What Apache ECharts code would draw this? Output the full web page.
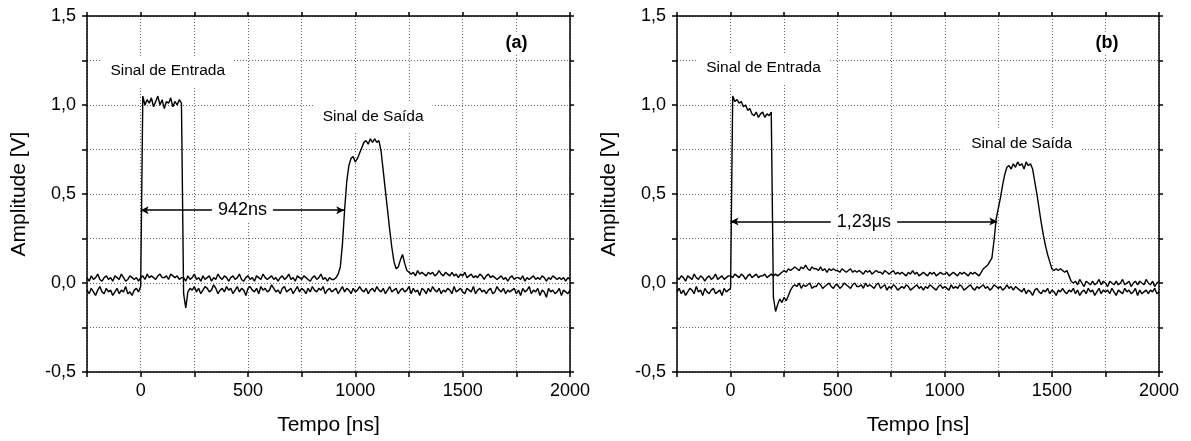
<!DOCTYPE html>
<html>
<head>
<meta charset="utf-8">
<script src="https://cdn.jsdelivr.net/npm/echarts@6/dist/echarts.min.js"></script>
<style>
html,body{margin:0;padding:0;background:#fff;}
#chart{width:1191px;height:441px;}
</style>
</head>
<body>
<div id="chart"></div>
<script>
// Sample times: start -250 ns, step 10 ns (226 samples up to 2000 ns)
const T_START = -250;
const T_STEP = 10;

// Values, in units of 0.01 V
// Panel (a) input pulse ("Sinal de Entrada")
const inputA = [
 -4,-6,-3,-5,-7,-4,-2,-5,-6,-3,-5,-4,-7,-5,-3,-6,-4,-5,-2,-6,-5,-7,-4,-3,-5,
 -2,
 105,100,103,101,104,99,102,105,100,103,98,102,101,104,99,102,100,103,101,
 -6,-14,
 -5,-3,-4,-2,-5,-3,-6,-4,-2,-3,
 -5,-4,-1,-3,-6,-4,-3,-5,-2,-4,
 -3,-6,-4,-2,-5,-3,-4,-7,-3,-2,
 -4,-5,-3,-6,-2,-4,-3,-5,-4,-1,
 -3,-5,-4,-6,-3,-2,-5,-4,-3,-6,
 -4,-2,-5,-3,-4,-6,-3,-5,-2,-4,
 -5,-3,-4,-2,-6,-4,-3,-5,-4,-3,
 -6,-4,-2,-5,-3,-4,-6,-3,-5,-4,
 -2,-4,-5,-3,-6,-4,-3,-5,-2,-4,
 -5,-3,-6,-4,-2,-5,-4,-3,-6,-4,
 -3,-5,-4,-2,-6,-3,-5,-4,-7,-3,
 -4,-6,-3,-5,-2,-4,-5,-3,-6,-4,
 -5,-3,-4,-6,-2,-5,-4,-3,-5,-6,
 -3,-4,-5,-2,-6,-4,-3,-5,-4,-6,
 -4,-3,-6,-5,-2,-4,-5,-3,-6,-4,
 -5,-4,-3,-6,-4,-7,-3,-5,-4,-2,
 -6,-4,-5,-3,-7,-4,-5,-8,-3,-5,
 -4,-6,-5,-3,-7,-4,-5,-6,-4
];
// Panel (a) output pulse ("Sinal de Saída")
const outputA = [
 3,1,4,2,3,5,2,1,3,4,2,3,1,4,3,2,5,3,1,2,4,3,2,3,1,
 3,4,2,5,3,4,3,2,4,5,3,3,4,2,5,4,3,4,2,3,
 3,1,4,2,3,5,2,3,1,4,
 2,3,4,1,3,2,5,3,2,4,
 3,1,3,4,2,3,5,2,1,3,
 4,2,3,1,4,3,2,5,3,2,
 3,4,2,3,1,3,4,2,3,5,
 2,3,1,4,3,2,4,3,2,1,
 3,4,2,3,5,2,3,1,3,2,
 2,3,5,9,22,41,57,66,70,71,68,70,73,76,79,80,78,81,79,81,79,80,74,63,52,41,30,20,12,8,9,13,16,11,7,6,
 5,6,4,7,5,6,5,4,6,5,
 6,4,5,7,5,4,6,5,4,6,
 4,5,3,5,4,6,3,4,5,3,
 4,3,5,4,2,4,5,3,4,3,
 2,3,4,2,3,1,3,4,2,3,
 3,2,4,1,3,2,3,4,2,3,
 2,4,3,1,3,2,4,3,2,3,
 2,3,1,3,2
];
// Panel (b) input pulse
const inputB = [
 -5,-3,-6,-4,-7,-5,-3,-4,-6,-2,-5,-4,-7,-3,-5,-6,-4,-3,-6,-5,-4,-7,-3,-5,-4,
 -3,
 105,102,103,101,102,99,100,97,98,95,94,96,93,95,96,93,95,94,96,
 -8,
 -16,-12,-9,-11,-8,-10,-7,-4,-2,
 -1,-2,0,-3,-1,-2,-1,0,-3,-2,
 -2,0,-1,-3,-2,-1,0,-2,-3,-1,
 -1,-3,-2,0,-1,-2,-3,-1,0,-2,
 -2,-1,-3,0,-2,-1,-2,-3,-1,0,
 -3,-2,-1,-4,-2,-3,-1,-2,-4,-3,
 -2,-3,-1,-2,-4,-3,-2,-1,-3,-2,
 -4,-2,-3,-1,-2,-3,-4,-2,-1,-3,
 -2,-3,-4,-1,-3,-2,-3,-1,-2,-4,
 -3,-2,-1,-3,-4,-2,-3,-2,-1,-3,
 -2,-4,-3,-1,-2,-3,-2,-4,-3,-1,
 -3,-2,-4,-2,-3,
 -4,-5,-3,-6,-4,-5,-7,-4,-3,-5,
 -6,-4,-5,-3,-6,-4,-5,-7,-4,-5,
 -3,-5,-6,-4,-5,-3,-6,-4,-7,-5,
 -4,-6,-3,-5,-4,-7,-5,-3,-6,-4,
 -5,-4,-6,-3,-5,-7,-4,-5,-6,-3,
 -5,-4,-6,-5,-3,-7,-4,-6,-5,-4,
 -6,-4,-5,-3,-6,-5
];
// Panel (b) output pulse
const outputB = [
 3,2,4,3,1,4,3,2,5,3,2,4,3,1,3,4,2,3,5,2,3,4,2,3,4,
 4,3,5,4,3,5,4,2,4,5,3,4,5,3,4,4,5,3,4,5,
 4,5,4,5,6,7,6,8,7,8,
 9,8,7,9,8,10,8,7,9,8,
 8,7,9,7,8,6,8,7,8,7,
 7,6,8,7,6,7,8,6,7,6,
 7,6,5,7,6,7,5,6,7,6,
 6,5,7,6,5,6,7,5,6,5,
 6,5,4,6,5,7,5,6,4,5,
 6,5,4,6,5,6,4,5,6,5,
 5,6,4,5,6,5,4,6,5,6,
 5,4,6,5,6,5,4,
 6,8,9,10,12,14,24,36,42,48,55,61,65,66,64,67,65,68,66,67,64,68,66,67,64,57,50,42,34,27,21,16,12,8,7,8,7,8,7,6,7,4,1,
 0,1,-1,2,0,-2,1,0,-1,1,
 -1,0,2,-1,1,0,-2,1,0,-1,
 1,-1,0,2,-1,0,1,-2,0,1,
 -1,1,0,-1,2,0,-1,1,-2,0,
 1
];

// Axis ranges and ticks
const xMin = -250, xMax = 2000, xStep = 250, xLabelStep = 500;
const yMin = -0.5, yMax = 1.5, yStep = 0.25;

// Annotations (data coordinates)
const labelsA = [
  {name: 'Sinal de Entrada', value: [126, 1.19]},
  {name: 'Sinal de Saída', value: [1083, 0.936]}
];
const labelsB = [
  {name: 'Sinal de Entrada', value: [154, 1.208]},
  {name: 'Sinal de Saída', value: [1359, 0.785]}
];
const tagA = [{name: '(a)', value: [1751, 1.349]}];
const tagB = [{name: '(b)', value: [1757, 1.348]}];
const delayA = {text: '942ns', from: 0, to: 948, level: 0.409};
const delayB = {text: '1,23\u03bcs', from: 0, to: 1245, level: 0.345};

function toPairs(arr) {
  return arr.map((v, i) => [T_START + T_STEP * i, v / 100]);
}

const FONT = "'Liberation Sans', Arial, Helvetica, sans-serif";
const gridDefs = [
  {left: 87, top: 16, width: 483, height: 357},
  {left: 677, top: 16, width: 482, height: 356}
];

const axisLineStyle = {color: '#000', width: 1.5};
const splitStyle = {show: true, lineStyle: {color: '#666', width: 1, type: [1, 2]}};

function xLabelFmt(v) {
  return (Math.round(v) % xLabelStep === 0) ? String(Math.round(v)) : '';
}
function yLabelFmt(v) {
  const k = Math.round(v * 100);
  return (k % 50 === 0) ? (k / 100).toFixed(1).replace('.', ',') : '';
}

const xAxes = [], yAxes = [];
gridDefs.forEach((g, gi) => {
  xAxes.push({
    type: 'value', gridIndex: gi, position: 'bottom', min: xMin, max: xMax, interval: xStep,
    name: 'Tempo [ns]', nameLocation: 'middle', nameGap: 43,
    nameTextStyle: {fontFamily: FONT, fontSize: 21, color: '#000'},
    axisLine: {show: true, onZero: false, lineStyle: axisLineStyle},
    axisTick: {show: true, inside: false, length: 5, lineStyle: {color: '#000', width: 1.5}},
    axisLabel: {show: true, formatter: xLabelFmt, fontFamily: FONT, fontSize: 18, color: '#000', margin: 10},
    splitLine: splitStyle
  });
  xAxes.push({
    type: 'value', gridIndex: gi, position: 'top', min: xMin, max: xMax, interval: xStep,
    axisLine: {show: true, onZero: false, lineStyle: axisLineStyle},
    axisTick: {show: true, inside: false, length: 4, lineStyle: {color: '#000', width: 1.5}},
    axisLabel: {show: false},
    splitLine: {show: false}
  });
  yAxes.push({
    type: 'value', gridIndex: gi, position: 'left', min: yMin, max: yMax, interval: yStep,
    name: 'Amplitude [V]', nameLocation: 'middle', nameGap: 57,
    nameTextStyle: {fontFamily: FONT, fontSize: 21, color: '#000'},
    axisLine: {show: true, onZero: false, lineStyle: axisLineStyle},
    axisTick: {show: true, inside: false, length: 5, lineStyle: {color: '#000', width: 1.5}},
    axisLabel: {show: true, formatter: yLabelFmt, fontFamily: FONT, fontSize: 18, color: '#000', margin: 11},
    splitLine: splitStyle
  });
  yAxes.push({
    type: 'value', gridIndex: gi, position: 'right', min: yMin, max: yMax, interval: yStep,
    axisLine: {show: true, onZero: false, lineStyle: axisLineStyle},
    axisTick: {show: true, inside: false, length: 4, lineStyle: {color: '#000', width: 1.5}},
    axisLabel: {show: false},
    splitLine: {show: false}
  });
});

function traceSeries(arr, gi) {
  return {
    type: 'line', xAxisIndex: gi * 2, yAxisIndex: gi * 2,
    data: toPairs(arr), showSymbol: false, symbol: 'none',
    lineStyle: {color: '#000', width: 1.4}, z: 3, silent: true
  };
}
function textSeries(data, gi, kind) {
  const bold = kind === 'tag';
  const big = kind !== 'note';
  return {
    type: 'scatter', xAxisIndex: gi * 2, yAxisIndex: gi * 2,
    data: data, symbol: 'circle', symbolSize: 0, z: 6, silent: true,
    itemStyle: {opacity: 1, color: '#000'},
    label: {
      show: true, position: 'inside', formatter: p => p.name, opacity: 1,
      fontFamily: FONT, fontSize: big ? 18 : 15.5, fontWeight: bold ? 'bold' : 'normal',
      color: '#000', textBorderWidth: 0, backgroundColor: '#fff',
      padding: kind === 'tag' ? [2, 2] : (kind === 'delay' ? [2, 6] : [7, 9])
    }
  };
}
function arrowSeries(d, gi) {
  return {
    type: 'line', xAxisIndex: gi * 2, yAxisIndex: gi * 2, data: [], z: 4, silent: true,
    markLine: {
      silent: true, animation: false,
      symbol: ['arrow', 'arrow'], symbolSize: [6, 8],
      lineStyle: {color: '#000', width: 1.5, type: 'solid'},
      label: {show: false},
      data: [[{coord: [d.from, d.level]}, {coord: [d.to, d.level]}]]
    }
  };
}
function delayLabel(d) {
  return [{name: d.text, value: [(d.from + d.to) / 2, d.level]}];
}

const chart = echarts.init(document.getElementById('chart'), null, {renderer: 'canvas'});
chart.setOption({
  backgroundColor: '#fff',
  animation: false,
  grid: gridDefs,
  xAxis: xAxes,
  yAxis: yAxes,
  series: [
    traceSeries(inputA, 0), traceSeries(outputA, 0),
    traceSeries(inputB, 1), traceSeries(outputB, 1),
    arrowSeries(delayA, 0), arrowSeries(delayB, 1),
    textSeries(labelsA, 0, 'note'), textSeries(tagA, 0, 'tag'),
    textSeries(labelsB, 1, 'note'), textSeries(tagB, 1, 'tag'),
    textSeries(delayLabel(delayA), 0, 'delay'), textSeries(delayLabel(delayB), 1, 'delay')
  ]
});
</script>
</body>
</html>
